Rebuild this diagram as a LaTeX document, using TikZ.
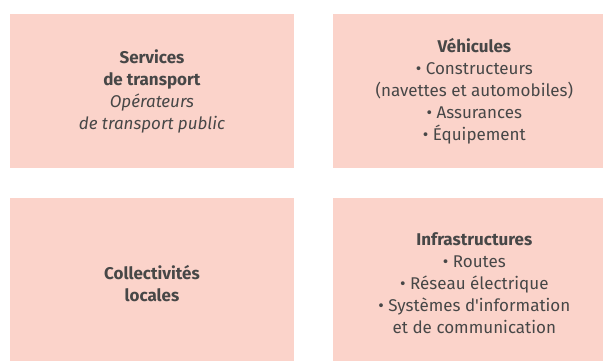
\documentclass[tikz,border=0pt]{standalone}
\usepackage{fontspec}
\setmainfont{Fira Sans}[Ligatures=TeXOff]
\usetikzlibrary{positioning}
\definecolor{boxpink}{HTML}{FBD3CA}
\definecolor{boxtext}{HTML}{474747}

\begin{document}
\begin{tikzpicture}[x=1pt,y=1pt]
        \tikzstyle{actor} = [rectangle, fill=boxpink, text=boxtext, align=center, minimum width=283.5pt, inner sep=0pt, font=\fontsize{17}{22}\selectfont]
        \useasboundingbox (0,0) rectangle (603,361);
        \node (services) [actor, minimum height=153.7pt, anchor=north west] at (10,347) {
            \textbf{Services} \\
            \textbf{de transport} \\
            \textit{Opérateurs} \\
            \textit{de transport public}
        };
        \node (vehicules) [actor, minimum height=153.7pt, right=38.5pt of services] {
            \textbf{Véhicules} \\
            • Constructeurs \\
            (navettes et automobiles) \\
            • Assurances \\
            • Équipement
        };
        \node (collectivites) [actor, minimum height=172pt, below=29.3pt of services] {
            \textbf{Collectivités} \\
            \textbf{locales}
        };
        \node (infrastructures) [actor, minimum height=172pt, below=29.3pt of vehicules] {
            \textbf{Infrastructures} \\
            • Routes \\
            • Réseau électrique \\
            • Systèmes d'information \\
            et de communication
        };
    \end{tikzpicture}
\end{document}
